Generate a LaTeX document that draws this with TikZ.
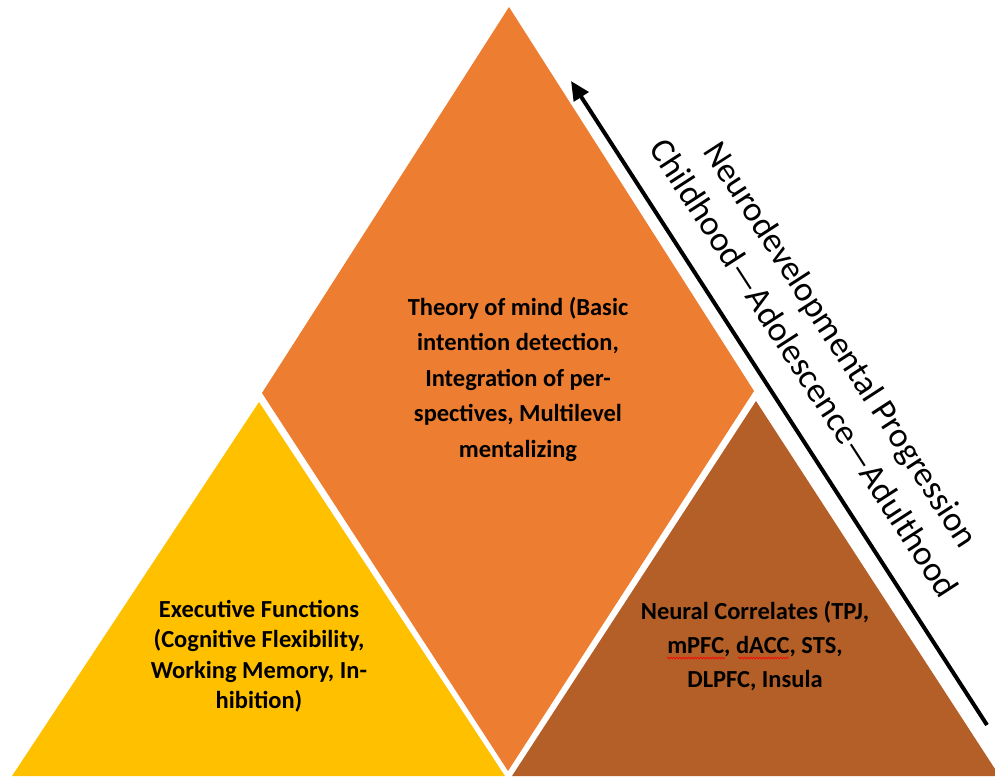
\documentclass[tikz,border=0pt]{standalone}
\usepackage{fontspec}
\setmainfont{Carlito}
\usetikzlibrary{arrows.meta,decorations.pathmorphing}

\definecolor{tomYellow}{HTML}{FFC000}
\definecolor{tomOrange}{HTML}{ED7D31}
\definecolor{tomBrown}{HTML}{B35F27}

\tikzset{
  label text/.style={align=center, font=\bfseries\fontsize{24.5}{35.5}\selectfont, text=black, inner sep=0pt},
  axis text/.style={align=center, font=\fontsize{35}{44}\selectfont, text=black, inner sep=0pt, rotate=-57.1},
  progress/.style={line width=4pt, -{Triangle[width=17pt,length=19pt]}},
  spellmark/.style={draw=red, line width=0.7pt, decorate, decoration={snake, amplitude=0.8pt, segment length=3pt}}
}

\begin{document}
\begin{tikzpicture}[x=1pt,y=-1pt]
  \useasboundingbox (0,0) rectangle (995,782);

  % three blocks of the pyramid
  \fill[tomOrange] (509,7) -- (754,391) -- (508,771) -- (262,393) -- cycle;
  \fill[tomYellow] (259,402) -- (505,776) -- (12,776) -- cycle;
  \fill[tomBrown]  (756,401) -- (995,769) -- (995,776) -- (512,776) -- cycle;

  % block labels
  \node[label text] (tom) at (518,379)
    {Theory of mind (Basic\\intention detection,\\Integration of per-\\spectives, Multilevel\\mentalizing};
  \node[label text, font=\bfseries\fontsize{24.5}{30.5}\selectfont] (ef) at (259,656)
    {Executive Functions\\(Cognitive Flexibility,\\Working Memory, In-\\hibition)};
  \node[label text, font=\bfseries\fontsize{24.5}{34}\selectfont] (nc) at (755,646)
    {Neural Correlates (TPJ,\\mPFC, dACC, STS,\\DLPFC, Insula};

  % spell-check marks under the abbreviations
  \draw[spellmark] (667,658) -- (725,658);
  \draw[spellmark] (738,658) -- (789,658);

  % developmental axis
  \coordinate (adult) at (571,81);
  \coordinate (child) at (987,725);
  \draw[progress] (child) -- (adult);
  \node[axis text] (axis) at (823,356)
    {Neurodevelopmental Progression\\Childhood—Adolescence—Adulthood};
\end{tikzpicture}
\end{document}
